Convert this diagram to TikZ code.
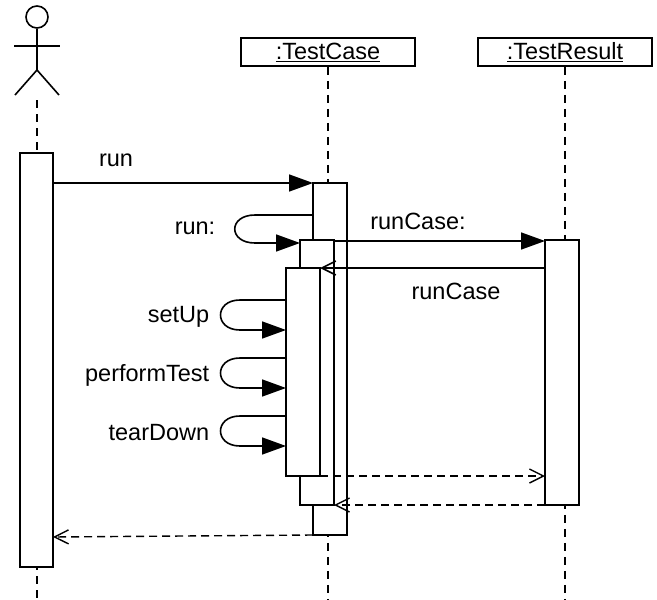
\documentclass[tikz,border=0pt]{standalone}
\usepackage{fontspec}
\setmainfont{Liberation Sans}
\usetikzlibrary{arrows.meta}

\tikzset{
  act/.style={draw, line width=1.6pt, fill=white},
  obj/.style={draw, line width=1.6pt, fill=white, minimum width=174pt, minimum height=28pt, inner sep=0pt},
  life/.style={line width=1.4pt, dash pattern=on 8pt off 6pt},
  call/.style={line width=1.6pt, -{Triangle[length=24pt,width=17pt]}},
  ret/.style={line width=1.4pt, dash pattern=on 8pt off 5pt, -{Straight Barb[length=14pt,width=14pt]}},
  back/.style={line width=1.6pt, -{Straight Barb[length=14pt,width=14pt]}},
  lbl/.style={font=\fontsize{23.5}{27}\selectfont, inner sep=0pt}
}

\begin{document}
\begin{tikzpicture}[x=1pt,y=-1pt,line width=1.6pt]
  \useasboundingbox (0,0) rectangle (657,600);
  % actor
  \node[draw, line width=1.6pt, circle, minimum size=22pt, inner sep=0pt] (head) at (37,17) {};
  \draw (head.south) -- (37,70) coordinate (hip);
  \draw (14,46) -- (60,46);
  \draw (hip) -- (15,95);
  \draw (hip) -- (59,95);
  % objects
  \node[obj] (tc) at (328,52) {\fontsize{23.5}{27}\selectfont\underline{:TestCase}};
  \node[obj] (tr) at (565,52) {\fontsize{23.5}{27}\selectfont\underline{:TestResult}};
  % lifelines
  \coordinate (aend) at (37,600);
  \coordinate (tcend) at (328,600);
  \coordinate (trend) at (565,600);
  \draw[life] (37,100) -- (aend);
  \draw[life] (tc.south) -- (tcend);
  \draw[life] (tr.south) -- (trend);
  % activations
  \draw[act] (20,153) rectangle (53,567);
  \draw[act] (313,183) rectangle (347,535);
  \draw[act] (300,240) rectangle (334,505);
  \draw[act] (286,268) rectangle (320,476);
  \draw[act] (545,240) rectangle (579,505);
  % messages
  \coordinate (a1) at (53,183);   \coordinate (b1) at (313,183);
  \draw[call] (a1) -- (b1);
  \node[lbl] (lrun) at (116,160) {run};
  \coordinate (a2) at (313,215);  \coordinate (b2) at (300,243);
  \draw[call] (a2) -- (255,215) .. controls (228,215) and (228,243) .. (255,243) -- (b2);
  \node[lbl] (lrun2) at (195,228) {run:};
  \coordinate (a3) at (334,241);  \coordinate (b3) at (545,241);
  \draw[call] (a3) -- (b3);
  \node[lbl] (lrc) at (418,221) {runCase:};
  \coordinate (a4) at (545,268);  \coordinate (b4) at (320,268);
  \draw[back] (a4) -- (b4);
  \node[lbl] (lrc2) at (456,291) {runCase};
  \foreach \y/\t/\n in {300/setUp/su, 358/performTest/pt, 416/tearDown/td}{
    \coordinate (s\n) at (286,\y);
    \coordinate (e\n) at (286,\y+30);
    \draw[call] (s\n) -- (240,\y) .. controls (214,\y) and (214,\y+30) .. (240,\y+30) -- (e\n);
    \node[lbl, anchor=east] (l\n) at (210,\y+17) {\t};
  }
  \coordinate (a5) at (320,476);  \coordinate (b5) at (545,476);
  \draw[ret] (a5) -- (b5);
  \coordinate (a6) at (545,505);  \coordinate (b6) at (334,505);
  \draw[ret] (a6) -- (b6);
  \coordinate (a7) at (313,535);  \coordinate (b7) at (53,537);
  \draw[ret] (a7) -- (b7);
\end{tikzpicture}
\end{document}
